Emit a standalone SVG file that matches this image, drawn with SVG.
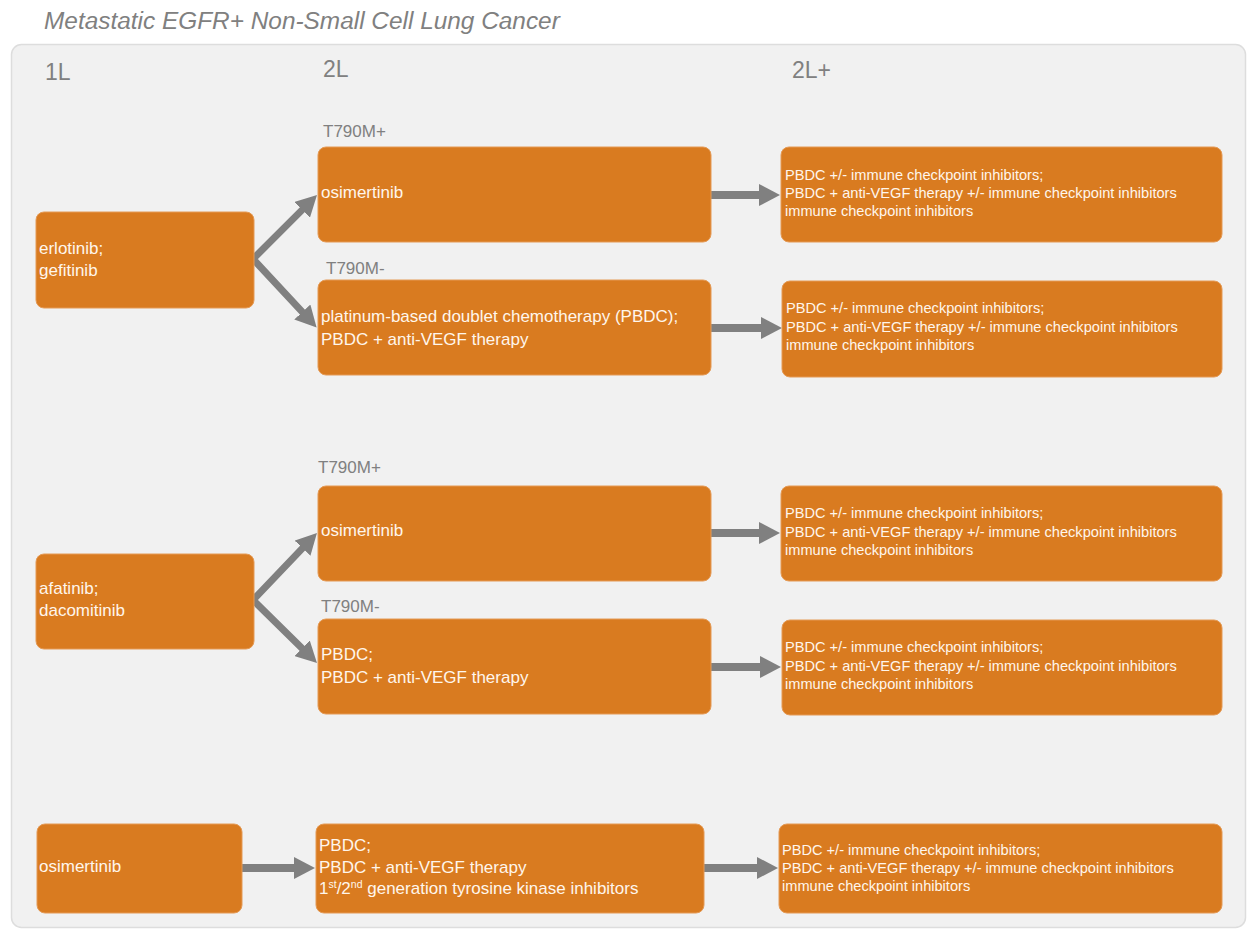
<svg xmlns="http://www.w3.org/2000/svg" width="1248" height="930" viewBox="0 0 1248 930">
<style>
text{font-family:"Liberation Sans",Arial,sans-serif}
.title{font-size:24.4px;font-style:italic;fill:#808080}
.hdr{font-size:23px;fill:#808080}
.lbl{font-size:17px;fill:#808080}
.box{fill:#D97B20;stroke:#E59A55;stroke-width:1}
.t{font-size:17px;fill:#FFF6EC}
.s{font-size:14.6px;fill:#FFF6EC}
.arr{fill:none;stroke:#808080;stroke-width:8}
.dia{fill:none;stroke:#808080;stroke-width:7;stroke-linejoin:miter}
</style>
<defs>
<marker id="ah" markerUnits="userSpaceOnUse" markerWidth="22" markerHeight="22" viewBox="0 0 22 22" refX="6" refY="11" orient="auto-start-reverse">
<path d="M0,0 L21,11 L0,22 z" fill="#808080"/>
</marker>
</defs>
<rect width="1248" height="930" fill="#ffffff"/>
<text class="title" x="44" y="29">Metastatic EGFR+ Non-Small Cell Lung Cancer</text>
<rect x="11.5" y="44.5" width="1234" height="883" rx="10" fill="#F1F1F1" stroke="#DDDDDD" stroke-width="1.5"/>
<text class="hdr" x="45" y="80">1L</text>
<text class="hdr" x="323" y="77">2L</text>
<text class="hdr" x="792" y="78">2L+</text>
<g id="labels">
<text class="lbl" x="323" y="137">T790M+</text>
<text class="lbl" x="326" y="274">T790M-</text>
<text class="lbl" x="318" y="473">T790M+</text>
<text class="lbl" x="321" y="612">T790M-</text>
</g>
<g id="connectors">
<path class="dia" d="M306.4,205.6 L253,259 L306.4,316.4" marker-start="url(#ah)" marker-end="url(#ah)"/>
<path class="dia" d="M306.6,543.8 L253,600 L306.3,652.5" marker-start="url(#ah)" marker-end="url(#ah)"/>
<path class="arr" d="M711,195 H765" marker-end="url(#ah)"/>
<path class="arr" d="M711,328 H767" marker-end="url(#ah)"/>
<path class="arr" d="M711,533 H765" marker-end="url(#ah)"/>
<path class="arr" d="M711,667 H766" marker-end="url(#ah)"/>
<path class="arr" d="M242,868 H300" marker-end="url(#ah)"/>
<path class="arr" d="M704,868 H763" marker-end="url(#ah)"/>
</g>
<g id="n1">
<rect class="box" x="36" y="212" width="218" height="96" rx="8"/>
<text class="t" x="39" y="254">erlotinib;</text>
<text class="t" x="39" y="276">gefitinib</text>
</g>
<g id="n2">
<rect class="box" x="318" y="147" width="393" height="95" rx="8"/>
<text class="t" x="321" y="198">osimertinib</text>
</g>
<g id="n3">
<rect class="box" x="318" y="280" width="393" height="95" rx="8"/>
<text class="t" x="321" y="322">platinum-based doublet chemotherapy (PBDC);</text>
<text class="t" x="321" y="345">PBDC + anti-VEGF therapy</text>
</g>
<g id="n4">
<rect class="box" x="781" y="147" width="441" height="95" rx="8"/>
<text class="s" x="785" y="180">PBDC +/- immune checkpoint inhibitors;</text>
<text class="s" x="785" y="198">PBDC + anti-VEGF therapy +/- immune checkpoint inhibitors</text>
<text class="s" x="785" y="216">immune checkpoint inhibitors</text>
</g>
<g id="n5">
<rect class="box" x="782" y="281" width="440" height="96" rx="8"/>
<text class="s" x="786" y="313">PBDC +/- immune checkpoint inhibitors;</text>
<text class="s" x="786" y="332">PBDC + anti-VEGF therapy +/- immune checkpoint inhibitors</text>
<text class="s" x="786" y="350">immune checkpoint inhibitors</text>
</g>
<g id="n6">
<rect class="box" x="36" y="554" width="218" height="95" rx="8"/>
<text class="t" x="39" y="594">afatinib;</text>
<text class="t" x="39" y="616">dacomitinib</text>
</g>
<g id="n7">
<rect class="box" x="318" y="486" width="393" height="95" rx="8"/>
<text class="t" x="321" y="536">osimertinib</text>
</g>
<g id="n8">
<rect class="box" x="318" y="619" width="393" height="95" rx="8"/>
<text class="t" x="321" y="660">PBDC;</text>
<text class="t" x="321" y="683">PBDC + anti-VEGF therapy</text>
</g>
<g id="n9">
<rect class="box" x="781" y="486" width="441" height="95" rx="8"/>
<text class="s" x="785" y="518">PBDC +/- immune checkpoint inhibitors;</text>
<text class="s" x="785" y="537">PBDC + anti-VEGF therapy +/- immune checkpoint inhibitors</text>
<text class="s" x="785" y="555">immune checkpoint inhibitors</text>
</g>
<g id="n10">
<rect class="box" x="782" y="620" width="440" height="95" rx="8"/>
<text class="s" x="785" y="652">PBDC +/- immune checkpoint inhibitors;</text>
<text class="s" x="785" y="671">PBDC + anti-VEGF therapy +/- immune checkpoint inhibitors</text>
<text class="s" x="785" y="689">immune checkpoint inhibitors</text>
</g>
<g id="n11">
<rect class="box" x="37" y="824" width="205" height="89" rx="8"/>
<text class="t" x="39" y="872">osimertinib</text>
</g>
<g id="n12">
<rect class="box" x="316" y="824" width="388" height="89" rx="8"/>
<text class="t" x="319" y="851">PBDC;</text>
<text class="t" x="319" y="873">PBDC + anti-VEGF therapy</text>
<text class="t" x="319" y="894">1<tspan font-size="10.5" dy="-6">st</tspan><tspan dy="6">/2</tspan><tspan font-size="10.5" dy="-6">nd</tspan><tspan dy="6"> generation tyrosine kinase inhibitors</tspan></text>
</g>
<g id="n13">
<rect class="box" x="779" y="824" width="443" height="89" rx="8"/>
<text class="s" x="782" y="855">PBDC +/- immune checkpoint inhibitors;</text>
<text class="s" x="782" y="873">PBDC + anti-VEGF therapy +/- immune checkpoint inhibitors</text>
<text class="s" x="782" y="891">immune checkpoint inhibitors</text>
</g>
</svg>
